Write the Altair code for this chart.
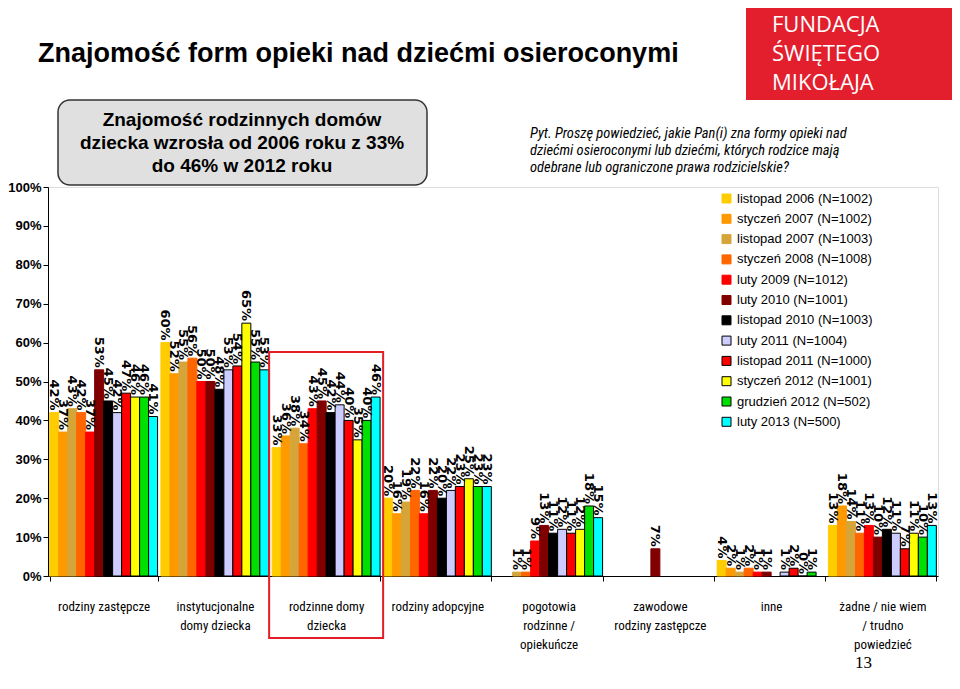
import altair as alt
import pandas as pd

categories = [
    "rodziny zastępcze",
    "instytucjonalne|domy dziecka",
    "rodzinne domy|dziecka",
    "rodziny adopcyjne",
    "pogotowia|rodzinne /|opiekuńcze",
    "zawodowe|rodziny zastępcze",
    "inne",
    "żadne / nie wiem|/ trudno|powiedzieć",
]

series = [
    "listopad 2006 (N=1002)",
    "styczeń 2007 (N=1002)",
    "listopad 2007 (N=1003)",
    "styczeń 2008 (N=1008)",
    "luty 2009 (N=1012)",
    "luty 2010 (N=1001)",
    "listopad 2010 (N=1003)",
    "luty 2011 (N=1004)",
    "listopad 2011 (N=1000)",
    "styczeń 2012 (N=1001)",
    "grudzień 2012 (N=502)",
    "luty 2013 (N=500)",
]

# values per series, in category order (None = no bar)
v_lis2006 = [42, 60, 33, 20, None, None, 4, 13]
v_sty2007 = [37, 52, 36, 16, None, None, 2, 18]
v_lis2007 = [43, 55, 38, 19, 1, None, 1, 14]
v_sty2008 = [42, 56, 34, 22, 1, None, 2, 11]
v_lut2009 = [37, 50, 43, 16, 9, None, 1, 13]
v_lut2010 = [53, 50, 45, 22, 13, 7, 1, 10]
v_lis2010 = [45, 48, 42, 20, 11, None, None, 12]
v_lut2011 = [42, 53, 44, 22, 12, None, 1, 11]
v_lis2011 = [47, 54, 40, 23, 11, None, 2, 7]
v_sty2012 = [46, 65, 35, 25, 12, None, 0, 11]
v_gru2012 = [46, 55, 40, 23, 18, None, 1, 10]
v_lut2013 = [41, 53, 46, 23, 15, None, None, 13]

all_values = [v_lis2006, v_sty2007, v_lis2007, v_sty2008, v_lut2009, v_lut2010,
              v_lis2010, v_lut2011, v_lis2011, v_sty2012, v_gru2012, v_lut2013]

fills = ["#FFCC00", "#FF9900", "#D6A53A", "#FF6600", "#FF0000", "#800000",
         "#000000", "#CCCCFF", "#FF0000", "#FFFF00", "#00E000", "#00FFFF"]
strokes = ["#FFCC00", "#FF9900", "#D6A53A", "#FF6600", "#FF0000", "#800000",
           "#000000", "#000000", "#000000", "#000000", "#000000", "#000000"]

rows = []
for s, vals in zip(series, all_values):
    for c, v in zip(categories, vals):
        if v is not None:
            rows.append({"cat": c, "series": s, "value": v, "label": f"{v}%"})
df = pd.DataFrame(rows)

W, H = 890, 389

x_enc = alt.X(
    "cat:N", sort=categories,
    scale=alt.Scale(domain=categories, paddingInner=0.03, paddingOuter=0.015),
    axis=alt.Axis(
        title=None,
        labelExpr="isValid(datum.value) ? split(datum.value, '|') : ''",
        labelAngle=0,
        labelFont="Liberation Sans Narrow, Roboto Condensed, DejaVu Sans Condensed",
        labelFontSize=13, labelLineHeight=19, labelPadding=19, labelBaseline="top",
        tickBand="extent", tickSize=5, tickColor="black", domainColor="black",
        labelColor="black", labelOverlap=False, labelLimit=300,
    ),
)
xo_enc = alt.XOffset("series:N", sort=series,
                     scale=alt.Scale(domain=series, paddingInner=0, paddingOuter=0))
y_enc = alt.Y(
    "value:Q", scale=alt.Scale(domain=[0, 100], nice=False),
    axis=alt.Axis(
        values=list(range(0, 101, 10)), labelExpr="datum.value + '%'", title=None,
        grid=False, labelFont="Liberation Sans", labelFontWeight="bold", labelFontSize=13,
        tickSize=5, labelPadding=2, domainColor="black", tickColor="black",
        labelColor="black",
    ),
)

legend_cfg = dict(
    title=None, orient="none", legendX=672, legendY=5, symbolType="square",
    symbolSize=81, labelFont="Liberation Sans", labelFontSize=13, rowPadding=6.3,
    labelOffset=4, symbolStrokeWidth=1, labelColor="black",
)

bars = alt.Chart(df).mark_bar(strokeWidth=1).encode(
    x=x_enc, xOffset=xo_enc, y=y_enc,
    color=alt.Color("series:N", sort=series,
                    scale=alt.Scale(domain=series, range=fills),
                    legend=alt.Legend(**legend_cfg)),
    stroke=alt.Stroke("series:N", sort=series,
                      scale=alt.Scale(domain=series, range=strokes),
                      legend=alt.Legend(**legend_cfg)),
)

labels = alt.Chart(df).mark_text(
    angle=90, align="right", baseline="middle", dx=-2,
    font="DejaVu Sans", fontWeight="bold", fontSize=13, color="black",
).encode(x=x_enc, xOffset=xo_enc, y=y_enc, text="label:N")

box_df = pd.DataFrame({"cat": [categories[2]]})
redbox = alt.Chart(box_df).mark_bar(
    fillOpacity=0, stroke="#E31E24", strokeWidth=2, width=114
).encode(x=alt.X("cat:N", sort=categories, scale=alt.Scale(domain=categories)),
         y=alt.value(165), y2=alt.value(451))

one = pd.DataFrame({"a": [0]})

logo_rect = alt.Chart(one).mark_rect(color="#E31E2D").encode(
    x=alt.value(698), x2=alt.value(920), y=alt.value(-190), y2=alt.value(-87))
logo_text = alt.Chart(one).mark_text(
    align="left", baseline="alphabetic", font="Open Sans", fontSize=22,
    fontWeight=500, color="white", lineBreak="\n", lineHeight=29,
).encode(x=alt.value(724), y=alt.value(-155),
         text=alt.value("FUNDACJA\nŚWIĘTEGO\nMIKOŁAJA"))

title = alt.Chart(one).mark_text(
    align="left", baseline="alphabetic", font="Liberation Sans", fontSize=27,
    fontWeight="bold", color="black",
).encode(x=alt.value(-10), y=alt.value(-125),
         text=alt.value("Znajomość form opieki nad dziećmi osieroconymi"))

gray_box = alt.Chart(one).mark_rect(
    cornerRadius=12, fill="#E0E0E0", stroke="#333333", strokeWidth=1.5
).encode(x=alt.value(10), x2=alt.value(379), y=alt.value(-87), y2=alt.value(-2))
gray_text = alt.Chart(one).mark_text(
    align="center", baseline="alphabetic", font="Liberation Sans", fontSize=19,
    fontWeight="bold", color="black", lineBreak="\n", lineHeight=23,
).encode(x=alt.value(194), y=alt.value(-61),
         text=alt.value("Znajomość rodzinnych domów\ndziecka wzrosła od 2006 roku z 33%\ndo 46% w 2012 roku"))

question = alt.Chart(one).mark_text(
    align="left", baseline="alphabetic",
    font="Liberation Sans Narrow, Roboto Condensed, Liberation Sans",
    fontSize=14.5, fontStyle="italic", color="black", lineBreak="\n", lineHeight=17,
).encode(x=alt.value(482), y=alt.value(-49),
         text=alt.value("Pyt. Proszę powiedzieć, jakie Pan(i) zna formy opieki nad\n"
                        "dziećmi osieroconymi lub dziećmi, których rodzice mają\n"
                        "odebrane lub ograniczone prawa rodzicielskie?"))

page_no = alt.Chart(one).mark_text(
    align="left", baseline="alphabetic", font="Liberation Serif", fontSize=17,
    color="black",
).encode(x=alt.value(807), y=alt.value(481), text=alt.value("13"))

chart = alt.layer(
    bars, labels, redbox, logo_rect, logo_text, title, gray_box, gray_text,
    question, page_no,
).properties(
    width=W, height=H,
    autosize=alt.AutoSizeParams(type="none"),
    padding={"left": 40, "top": 179, "right": 14, "bottom": 97},
).configure_view(stroke=None).configure(background="white")

chart.save("out.html", embed_options={"renderer": "svg", "actions": False})
